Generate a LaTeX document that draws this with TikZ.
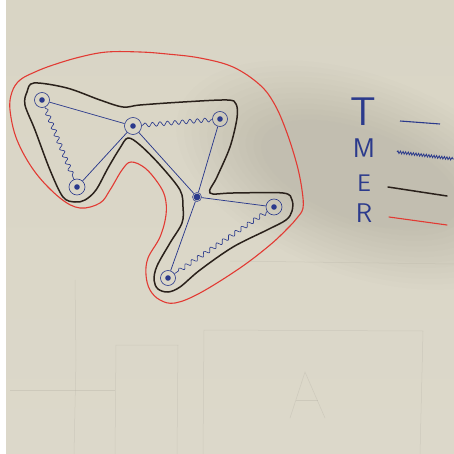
\documentclass[tikz,border=0pt]{standalone}
\usepackage{fontspec}
\usetikzlibrary{decorations.pathmorphing}
\definecolor{papertop}{HTML}{D9D5C5}
\definecolor{paperbot}{HTML}{DCD8CA}
\definecolor{shadowc}{HTML}{9F9C93}
\definecolor{penblue}{HTML}{2B3A8C}
\definecolor{penblack}{HTML}{2A211B}
\definecolor{penred}{HTML}{E23A33}
\definecolor{pencil}{HTML}{B3AFA3}
\begin{document}
\begin{tikzpicture}[x=1pt,y=-1pt,
  site/.style={circle, draw=penblue, line width=0.6pt, minimum size=15pt, inner sep=0pt},
  hub/.style={circle, draw=penblue, line width=0.5pt, minimum size=9pt, inner sep=0pt},
  tline/.style={penblue, line width=0.75pt},
  wavy/.style={penblue, line width=0.65pt, decorate,
    decoration={snake, amplitude=2.1pt, segment length=7.5pt, pre length=1pt, post length=1pt}},
  eline/.style={penblack, line width=1.5pt, line cap=round},
  rline/.style={penred, line width=1.1pt, line cap=round},
  faint/.style={pencil, line width=0.5pt, opacity=0.35},
  letter/.style={penblue, inner sep=0pt, font=\sffamily}]
\useasboundingbox (0,0) rectangle (454,454);

% paper, with a soft shadow built from stacked translucent ellipses
\shade[top color=papertop, bottom color=paperbot] (0,0) rectangle (454,454);
\begin{scope}[shift={(360,175)}, rotate=-20]
  \foreach \k in {1,...,12}
    \fill[shadowc, opacity=0.03] (0,0) ellipse [x radius={200-8*\k}, y radius={105-5*\k}];
\end{scope}
\fill[white] (0,0) rectangle (6,454);

% faint pencil from the back of the sheet
\draw[faint] (75,280) -- (76,360) -- (74,454);
\draw[faint] (115,454) -- (116,345) -- (178,345) -- (177,454);
\draw[faint] (203,454) -- (204,330) -- (423,331) -- (420,454);
\draw[faint] (290,418) -- (305,372) -- (325,418);
\draw[faint] (296,400) -- (318,400);
\draw[faint] (230,261) -- (454,264);
\draw[faint] (10,390) -- (115,390);

% outer (red) and enclosing (black) boundaries
\draw[rline] plot[smooth cycle, tension=0.6] coordinates {
  (20,80) (35,72) (53,65) (80,57) (107,52) (140,52) (167,54) (200,58) (233,67)
  (260,85) (275,105) (287,133) (297,165) (302,190) (303,208) (297,218) (288,228)
  (270,245) (240,268) (200,293) (175,303) (160,300) (150,290) (146,275) (148,258)
  (160,237) (166,215) (165,197) (158,183) (145,168) (131,162) (122,170) (110,190)
  (100,203) (80,208) (60,198) (35,172) (17,140) (10,110) (12,92)};
\draw[eline] plot[smooth cycle, tension=0.55] coordinates {
  (27,92) (34,83) (67,88) (100,100) (123,107) (140,105) (183,102) (227,100)
  (236,104) (237,118) (230,147) (217,177) (210,193) (233,193) (283,193) (292,200)
  (292,211) (286,220) (267,230) (233,247) (200,270) (180,287) (168,292) (158,289)
  (154,280) (157,266) (170,243) (182,223) (183,207) (180,190) (160,165) (140,145)
  (128,138) (120,148) (108,168) (96,190) (85,200) (75,202) (63,197) (50,170)
  (35,130) (25,105)};

% sites
\node[site] (A) at (42,100) {};
\node[site, minimum size=17pt] (B) at (133,126) {};
\node[site] (C) at (220,119) {};
\node[site, minimum size=16pt] (D) at (77,187) {};
\node[hub] (E) at (197,197) {};
\node[site, minimum size=16pt] (F) at (274,207) {};
\node[site] (G) at (168,278) {};
\foreach \n in {A,B,C,D,F,G} \fill[penblue] (\n) circle (2.8pt);
\fill[penblue] (E) circle (3.4pt);

% links
\draw[tline] (A) -- (B);
\draw[tline] (B) -- (D);
\draw[tline] (B) -- (E);
\draw[tline] (C) -- (E);
\draw[tline] (E) -- (F);
\draw[tline] (E) -- (G);
\draw[wavy] (A) -- (D);
\draw[wavy] (B) -- (C);
\draw[wavy] (F) -- (G);

% legend
\node[letter, font=\sffamily\fontsize{40}{40}\selectfont] (lT) at (363,112) {T};
\node[letter, font=\sffamily\fontsize{27}{27}\selectfont] (lM) at (364,148) {M};
\node[letter, font=\sffamily\fontsize{24}{24}\selectfont] (lE) at (364,183) {E};
\node[letter, font=\sffamily\fontsize{27}{27}\selectfont] (lR) at (364,213) {R};
\coordinate (t1) at (400,121); \coordinate (t2) at (440,124);
\coordinate (m1) at (397,152); \coordinate (m2) at (454,159);
\coordinate (e1) at (388,187); \coordinate (e2) at (447,196);
\coordinate (r1) at (389,217); \coordinate (r2) at (447,225);
\draw[penblue, line width=1.1pt] (t1) -- (t2);
\draw[penblue, line width=0.8pt, decorate,
  decoration={snake, amplitude=1.3pt, segment length=2.6pt}] (m1) -- (m2);
\draw[eline] (e1) -- (e2);
\draw[rline] (r1) -- (r2);
\end{tikzpicture}
\end{document}
